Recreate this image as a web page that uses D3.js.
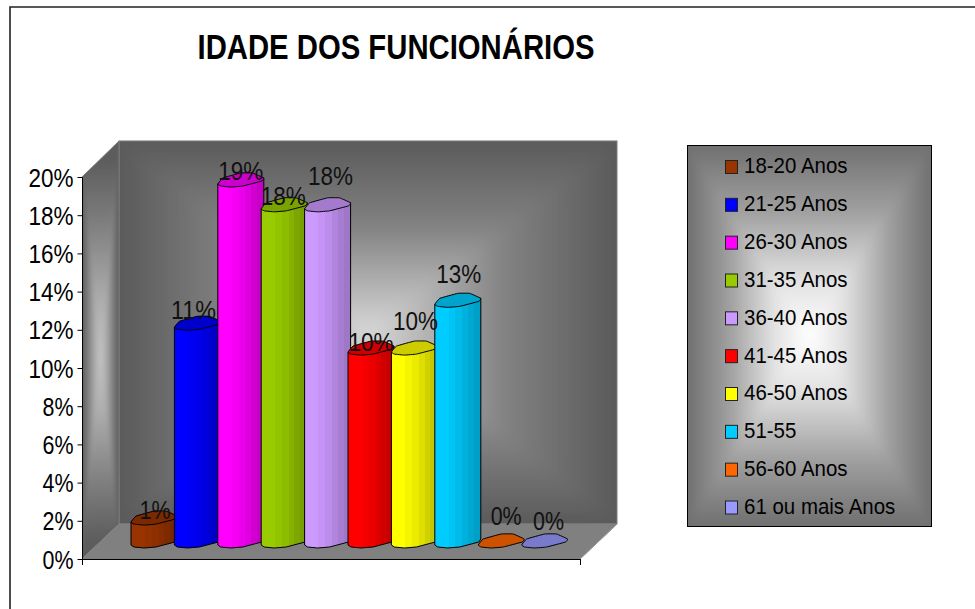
<!DOCTYPE html>
<html><head><meta charset="utf-8">
<script src="https://cdn.jsdelivr.net/npm/d3@7"></script>
<style>html,body{margin:0;padding:0;background:#fff}svg{display:block}text{font-family:"Liberation Sans",Arial,sans-serif;fill:#000}</style>
</head><body><script>
const categories = ["18-20 Anos","21-25 Anos","26-30 Anos","31-35 Anos","36-40 Anos","41-45 Anos","46-50 Anos","51-55","56-60 Anos","61 ou mais Anos"];
const values = [0.012,0.114,0.189,0.176,0.176,0.101,0.101,0.126,0,0];
const colors = ["#993300","#0000ff","#ff00ff","#99cc00","#cc99ff","#ff0000","#ffff00","#00ccff","#ff6600","#9999ff"];
const yTicks = [0,0.02,0.04,0.06,0.08,0.1,0.12,0.14,0.16,0.18,0.2];
const title = "IDADE DOS FUNCIONÁRIOS";

const W=975,H=609;
const svg=d3.select("body").append("svg").attr("width",W).attr("height",H);
const defs=svg.append("defs");
const y=d3.scaleLinear().domain([0,0.2]).range([559,177]);
const x=d3.scaleBand().domain(categories).range([131,565]);
const depth={dx:37,dy:-35}, barW=46, baseY=y(0)-18;
const labelDy=[1,-4,0,0,-20,3,-18,-17,-16,-11];
const labelDx=[0,-5,-1,-2,2,-1,0,0,4,3];
const fmt=d3.format(".0%");

function softPanel(parent,id,corners,cx,cy,stops,blur){
  const [tl,tr,br,bl]=corners;
  const clip=defs.append("clipPath").attr("id",id+"clip");
  clip.append("polygon").attr("points",corners.map(d=>d.join(",")).join(" "));
  const f=defs.append("filter").attr("id",id+"blur").attr("filterUnits","userSpaceOnUse")
    .attr("x",0).attr("y",0).attr("width",W).attr("height",H);
  f.append("feGaussianBlur").attr("stdDeviation",blur);
  const outer=parent.append("g").attr("clip-path",`url(#${id}clip)`);
  outer.append("polygon").attr("points",corners.map(d=>d.join(",")).join(" ")).attr("fill",stops[0][1]);
  const g=outer.append("g").attr("filter",`url(#${id}blur)`);
  const faces=[
    {n:"t",p:[tl,tr],g:[cx,(tl[1]+tr[1])/2,cx,cy]},
    {n:"b",p:[br,bl],g:[cx,(bl[1]+br[1])/2,cx,cy]},
    {n:"l",p:[bl,tl],g:[(tl[0]+bl[0])/2,cy,cx,cy]},
    {n:"r",p:[tr,br],g:[(tr[0]+br[0])/2,cy,cx,cy]}];
  faces.forEach(fc=>{
    const gr=defs.append("linearGradient").attr("id",id+fc.n).attr("gradientUnits","userSpaceOnUse")
      .attr("x1",fc.g[0]).attr("y1",fc.g[1]).attr("x2",fc.g[2]).attr("y2",fc.g[3]);
    stops.forEach(s=>gr.append("stop").attr("offset",s[0]).attr("stop-color",s[1]));
    g.append("polygon").attr("points",[fc.p[0],fc.p[1],[cx,cy]].map(d=>d.join(",")).join(" "))
      .attr("fill",`url(#${id+fc.n})`).attr("stroke",`url(#${id+fc.n})`).attr("stroke-width",0.8);
  });
}
function squeeze(sel,k){
  sel.each(function(){
    const len=this.getComputedTextLength();
    d3.select(this).attr("textLength",len*k).attr("lengthAdjust","spacingAndGlyphs");
  });
}

// frame
svg.append("path").attr("d","M10,609V7H975").attr("fill","none").attr("stroke","#222").attr("stroke-width",1.6);

// title
svg.append("text").attr("x",396).attr("y",59).attr("text-anchor","middle")
  .attr("font-weight","bold").attr("font-size",35).attr("textLength",397).attr("lengthAdjust","spacingAndGlyphs").text(title);

// walls
const wall=svg.append("g");
const L=82,R=580,B=y(0),T=y(0.2);
const backL=L+depth.dx,backR=R+depth.dx,backB=B+depth.dy,backT=T-36;
softPanel(wall,"back",[[backL,backT],[backR,backT],[backR,backB],[backL,backB]],(backL+backR)/2,(backT+backB)/2,
  [[0,"#5a5a5a"],[0.45,"#828282"],[1,"#d8d8d8"]],7);
wall.append("rect").attr("x",backL).attr("y",backT).attr("width",backR-backL).attr("height",backB-backT)
  .attr("fill","none").attr("stroke","#7d7d7d");
wall.append("path").attr("d",`M${backL},${backT-.5}H${backR}`).attr("stroke","#b5b5b5").attr("fill","none");
softPanel(wall,"side",[[L,T],[backL,backT],[backL,backB],[L,B]],(L+backL)/2,(T+B)/2-9,
  [[0,"#5c5c5c"],[0.3,"#7c7c7c"],[0.7,"#acacac"],[1,"#c4c4c4"]],2);
wall.append("path").attr("d",`M${L},${T}L${backL},${backT}V${backB}L${L},${B}`).attr("fill","none").attr("stroke","#7d7d7d");
wall.append("polygon").attr("points",`${L},${B} ${backL},${backB} ${backR},${backB} ${R},${B}`).attr("fill","#808080").attr("stroke","#808080");

// axes
const axY=d3.axisLeft(y).tickValues(yTicks).tickSize(5).tickPadding(4).tickFormat(fmt);
const gy=svg.append("g").attr("transform",`translate(${L+.5},0)`).call(axY);
gy.select(".domain").attr("stroke","#000").attr("d",`M0,${T+.5}V${B+.5}`);
gy.selectAll(".tick line").attr("stroke","#000");
gy.selectAll("text").attr("font-size",25).attr("font-family",null).attr("dy","0.36em")
  .each(function(d){d3.select(this).attr("textLength",fmt(d).length===3?45:31).attr("lengthAdjust","spacingAndGlyphs");});
svg.append("path").attr("d",`M${L},${B+.5}H${R}M${L+.5},${B}v6M${R+.5},${B}v6`).attr("stroke","#000").attr("fill","none");
svg.append("path").attr("d",`M${R},${B}L${backR},${backB}`).attr("stroke","#9a9a9a").attr("fill","none");

// bars
const shades=[[0,1],[.3,.96],[.45,.92],[.6,.87],[.72,.82],[.85,.78]];
const shade=(c,k)=>{const r=d3.rgb(c);return d3.rgb(r.r*k,r.g*k,r.b*k).formatHex();};
categories.forEach((c,i)=>{
  const gr=defs.append("linearGradient").attr("id","bar"+i);
  shades.forEach((s,j)=>{
    gr.append("stop").attr("offset",s[0]).attr("stop-color",shade(colors[i],s[1]));
    gr.append("stop").attr("offset",j+1<shades.length?shades[j+1][0]:1).attr("stop-color",shade(colors[i],s[1]));
  });
});
const lower=[[0,4],[3,6],[13,7],[25,6],[44,1],[46,-2]];
const upper=[[35,-7],[23,-7],[5,-2]];
const ring=lower.concat(upper);
const closed=d3.line().curve(d3.curveCardinalClosed.tension(.75));
const gb=svg.append("g").selectAll("g").data(categories).join("g");
gb.each(function(c,i){
  const g=d3.select(this),x0=x(c),top=baseY-(y(0)-y(values[i]));
  if(values[i]>0){
    const pts=[[x0,top+4]].concat(lower.map(p=>[x0+p[0],baseY+p[1]])).concat([[x0+barW,top-2]]);
    g.append("path").attr("d",d3.line()(pts)+"Z").attr("fill",`url(#bar${i})`).attr("stroke","#000").attr("stroke-linejoin","round");
  }
  g.append("path").attr("d",closed(ring.map(p=>[x0+p[0],top+p[1]]))).attr("fill",shade(colors[i],.8)).attr("stroke","#000");
});

// labels
svg.append("g").selectAll("text").data(categories).join("text")
  .attr("x",(c,i)=>x(c)+24+labelDx[i])
  .attr("y",(c,i)=>baseY-(y(0)-y(values[i]))+labelDy[i])
  .attr("text-anchor","middle").attr("font-size",25).style("fill","#111")
  .each(function(c,i){const s=fmt(values[i]);d3.select(this).attr("textLength",s.length===3?45:31).attr("lengthAdjust","spacingAndGlyphs").text(s);});

// legend
const lg=svg.append("g");
const lx0=687,lx1=931,ly0=145,ly1=526;
softPanel(lg,"leg",[[lx0,ly0],[lx1,ly0],[lx1,ly1],[lx0,ly1]],(lx0+lx1)/2,(ly0+ly1)/2,[[0,"#707070"],[.35,"#a0a0a0"],[.7,"#e0e0e0"],[1,"#ffffff"]],4);
lg.append("rect").attr("x",lx0+.5).attr("y",ly0+.5).attr("width",lx1-lx0).attr("height",ly1-ly0).attr("fill","none").attr("stroke","#000");
const ly=d3.scalePoint().domain(categories).range([166.5,507]);
const row=lg.selectAll("g.row").data(categories).join("g").attr("class","row").attr("transform",c=>`translate(0,${ly(c)})`);
row.append("rect").attr("x",725.5).attr("y",-6).attr("width",12).attr("height",13).attr("fill",(c,i)=>colors[i]).attr("stroke","#222");
row.append("text").attr("x",744).attr("y",-1).attr("dy","0.36em").attr("font-size",22).text(c=>c).call(squeeze,0.93);
</script></body></html>
